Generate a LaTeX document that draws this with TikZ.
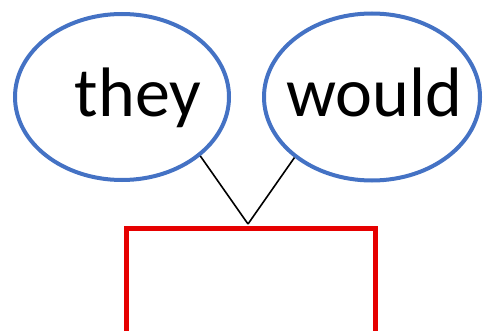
\documentclass[tikz,border=0pt]{standalone}
\usepackage{fontspec}
\setmainfont{Carlito}
\usetikzlibrary{shapes.geometric}
\definecolor{ellblue}{RGB}{68,114,196}
\definecolor{boxred}{RGB}{230,0,0}
\begin{document}
\begin{tikzpicture}[x=1pt,y=-1pt,
  wordell/.style={draw=ellblue,line width=4pt,ellipse,inner sep=0pt},
  wordtext/.style={font=\fontsize{70}{84}\selectfont,anchor=base,inner sep=0pt},
  link/.style={draw=black,line width=1.6pt},
  headbox/.style={draw=boxred,line width=4.5pt,rectangle,inner sep=0pt,anchor=north west,minimum width=249pt,minimum height=130pt}]
\useasboundingbox (0,0) rectangle (484,331);
\node[wordell,minimum width=214pt,minimum height=166pt] (e1) at (122,97) {};
\node[wordell,minimum width=216pt,minimum height=167pt] (e2) at (372,97) {};
\node[wordtext] (t1) at (138,117) {they};
\node[wordtext] (t2) at (374,117) {would};
\node[headbox] (b) at (124,226) {};
\coordinate (top) at (248,224);
\draw[link] (e1.-37) -- (top);
\draw[link] (e2.-142) -- (top);
\end{tikzpicture}
\end{document}
